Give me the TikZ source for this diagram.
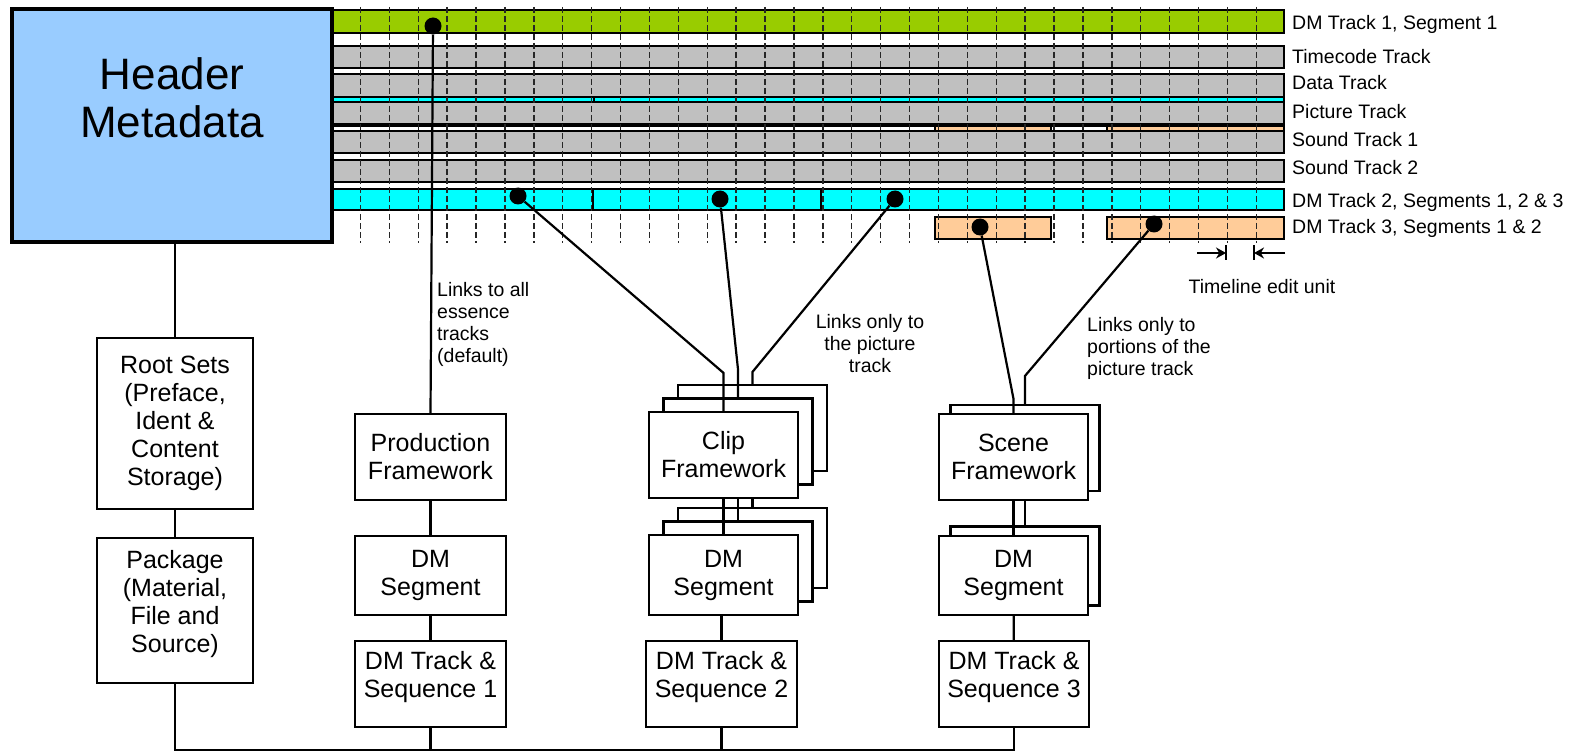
\documentclass[tikz,border=0pt]{standalone}
\usepackage{fontspec}
\setmainfont{Liberation Sans}
\usetikzlibrary{calc,arrows.meta}
\definecolor{dmgreen}{HTML}{99CC00}
\definecolor{trkgrey}{HTML}{C0C0C0}
\definecolor{dmcyan}{HTML}{00FFFF}
\definecolor{dmpeach}{HTML}{FFCC99}
\definecolor{hdrblue}{HTML}{99CCFF}
\begin{document}
\begin{tikzpicture}[x=1pt,y=-1pt,
    mxfbox/.style={draw,line width=2.2pt,fill=white,inner sep=0pt,align=center,
      font=\fontsize{25}{28}\selectfont},
    fwbox/.style={mxfbox,minimum width=149pt,minimum height=86pt},
    segbox/.style={mxfbox,minimum width=149pt,minimum height=80pt},
    seqbox/.style={mxfbox,minimum width=151pt,minimum height=86pt,text depth=20pt},
    trk/.style={draw,line width=1.4pt},
    linkln/.style={line width=2.2pt},
    linkdot/.style={circle,fill,inner sep=0pt,minimum size=17pt},
    note/.style={font=\fontsize{19.5}{22}\selectfont,inner sep=0pt}]
  \useasboundingbox (0,0) rectangle (1585,754);
  % tracks
  \foreach \ya/\yb/\cl in {10/33/dmgreen,46/68/trkgrey,74/97/trkgrey,102/124/trkgrey,
      131/153/trkgrey,160/182/trkgrey,189/210/dmcyan}
    \draw[trk,fill=\cl] (332,\ya) rectangle (1284,\yb);
  \draw[trk,fill=dmcyan] (332,97) rectangle (594,102) (594,97) rectangle (1284,102);
  \draw[trk,fill=white] (332,126) rectangle (1284,131);
  \draw[trk,fill=dmpeach] (935,126) rectangle (1051,131) (1107,126) rectangle (1284,131);
  \draw[trk] (593,189) -- (593,210) (821,189) -- (821,210);
  \draw[trk,fill=dmpeach] (935,217) rectangle (1051,239) (1107,217) rectangle (1284,239);
  \foreach \k in {1,...,32}
    \draw[line width=1.4pt,black!85,dash pattern=on 6pt off 3pt] ({331.5+28.9*\k},7) -- +(0,236);
  \node[draw,line width=4pt,fill=hdrblue,minimum width=320pt,minimum height=233pt,
    align=center,font=\fontsize{44}{48}\selectfont,text depth=56pt] (header) at (172,125.5) {Header\\Metadata};
  \foreach \y/\t [count=\i] in {24/{DM Track 1, Segment 1},57/Timecode Track,83/Data Track,
      112/Picture Track,140/Sound Track 1,168/Sound Track 2,202/{DM Track 2, Segments 1, 2 \& 3},
      228/{DM Track 3, Segments 1 \& 2}}
    \node[note,anchor=west] (lbl\i) at (1292,\y) {\t};
  % edit unit
  \coordinate (eua) at (1226,253);
  \coordinate (eub) at (1254,253);
  \draw[line width=1.8pt,-{Stealth[length=10pt,width=11pt]}] ($(eua)+(-29,0)$) -- (eua);
  \draw[line width=1.8pt,-{Stealth[length=10pt,width=11pt]}] ($(eub)+(31,0)$) -- (eub);
  \draw[line width=1.8pt] ($(eua)+(0,-8)$) -- ($(eua)+(0,7)$) ($(eub)+(0,-8)$) -- ($(eub)+(0,7)$);
  \node[note] (edit) at (1262,287) {Timeline edit unit};
  % link dots
  \node[linkdot] (d1) at (433,26) {};
  \node[linkdot] (d2) at (518,196) {};
  \node[linkdot] (d3) at (720,199) {};
  \node[linkdot] (d4) at (895,199) {};
  \node[linkdot] (d5) at (980,227) {};
  \node[linkdot] (d6) at (1154,224) {};
  % left column
  \node[mxfbox,minimum width=156pt,minimum height=171pt] (root) at (175,423.5)
    {Root Sets\\(Preface,\\Ident \&\\Content\\Storage)};
  \node[mxfbox,minimum width=156pt,minimum height=145pt,text depth=18pt] (pkg) at (175,610.5)
    {Package\\(Material,\\File and\\Source)};
  \draw[linkln] (header.south -| root) -- (root);
  \draw[linkln] (root) -- (pkg);
  % production
  \node[fwbox,minimum width=151pt] (prod) at (430.5,457) {Production\\Framework};
  \node[segbox,minimum width=151pt,minimum height=79pt] (seg1) at (430.5,575.5) {DM\\Segment};
  \node[seqbox] (seq1) at (430.5,684) {DM Track \&\\Sequence 1};
  \draw[linkln] (d1) -- (prod.north);
  \draw[linkln] (prod) -- (seg1);
  \draw[linkln] (seg1) -- (seq1);
  % clip
  \node[fwbox] (clipc) at (752.5,428) {};
  \node[segbox] (csegc) at (752.5,548) {};
  \draw[linkln] (d4) -- ($(clipc.north)+(0,-12)$) -- (clipc.north);
  \draw[linkln] (clipc) -- (csegc);
  \node[fwbox] (clipb) at (738,441.5) {};
  \node[segbox] (csegb) at (738,561.5) {};
  \draw[linkln] (d3) -- ($(clipb.north)+(0,-28)$) -- (clipb.north);
  \draw[linkln] (clipb) -- (csegb);
  \node[fwbox] (clip) at (723.5,455) {Clip\\Framework};
  \node[segbox] (cseg) at (723.5,575) {DM\\Segment};
  \draw[linkln] (d2) -- ($(clip.north)+(0,-38)$) -- (clip.north);
  \draw[linkln] (clip) -- (cseg);
  \node[seqbox] (seq2) at (721.5,684) {DM Track \&\\Sequence 2};
  \draw[linkln] (cseg.south -| seq2) -- (seq2);
  % scene
  \node[fwbox] (sceneb) at (1025,448) {};
  \node[segbox,minimum height=79pt] (ssegb) at (1025,566) {};
  \draw[linkln] (d6) -- ($(sceneb.north)+(0,-28)$) -- (sceneb.north);
  \draw[linkln] (sceneb) -- (ssegb);
  \node[fwbox] (scene) at (1013.5,457) {Scene\\Framework};
  \node[segbox,minimum height=79pt] (sseg) at (1013.5,575.5) {DM\\Segment};
  \draw[linkln] (d5) -- ($(scene.north)+(0,-14)$) -- (scene.north);
  \draw[linkln] (scene) -- (sseg);
  \node[seqbox,minimum width=150pt] (seq3) at (1014,684) {DM Track \&\\Sequence 3};
  \draw[linkln] (sseg) -- (seq3);
  % bus
  \coordinate (bus) at (0,750);
  \draw[linkln] (pkg.south) |- (bus -| seq3) -- (seq3.south);
  \draw[linkln] (seq1.south) -- (seq1 |- bus);
  \draw[linkln] (seq2.south) -- (seq2 |- bus);
  % notes
  \node[note,align=left,anchor=west] (lnkall) at (437,324.5) {Links to all\\essence\\tracks\\(default)};
  \node[note,align=center] (lnkpic) at (870,344) {Links only to\\the picture\\track};
  \node[note,align=left,anchor=west] (lnkpart) at (1087,348) {Links only to\\portions of the\\picture track};
\end{tikzpicture}
\end{document}
